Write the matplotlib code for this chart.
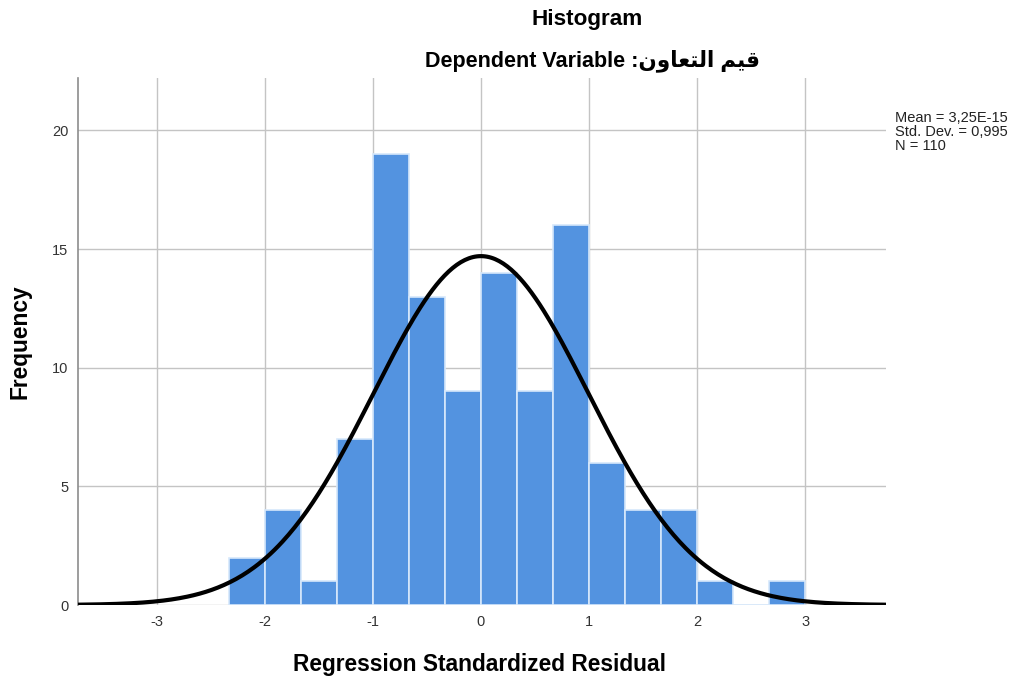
"""SPSS-style histogram of regression standardized residuals."""

import matplotlib
import matplotlib.pyplot as plt
import numpy as np

matplotlib.use("Agg")

# bin edges (width 1/3) and counts
bin_edges = [-7 / 3, -2, -5 / 3, -4 / 3, -1, -2 / 3, -1 / 3, 0, 1 / 3, 2 / 3,
             1, 4 / 3, 5 / 3, 2, 7 / 3, 8 / 3, 3]
counts = [2, 4, 1, 7, 19, 13, 9, 14, 9, 16, 6, 4, 4, 1, 0, 1]
x_ticks = [-3, -2, -1, 0, 1, 2, 3]
y_ticks = [0, 5, 10, 15, 20]

mean = 3.25e-15
std = 0.995
n = 110

# Arabic variable name, pre-shaped presentation forms in visual order
arabic_name = "\uFEE5\uFEED\uFE8E\uFECC\uFE98\uFEDF\uFE8D \uFEE2\uFEF4\uFED7"

plt.rcParams["font.family"] = ["Liberation Sans", "DejaVu Sans"]
plt.rcParams["axes.unicode_minus"] = False

fig = plt.figure(figsize=(10.16, 6.81), dpi=100)
ax = fig.add_axes([0.0768, 0.1116, 0.7953, 0.7736])

widths = np.diff(bin_edges)
ax.bar(bin_edges[:-1], counts, width=widths, align="edge",
       color="#5393e0", edgecolor="#d6e8fb", linewidth=1.2, zorder=2)

# fitted normal curve
xs = np.linspace(-3.73, 3.75, 400)
bw = bin_edges[1] - bin_edges[0]
ys = n * bw / (std * np.sqrt(2 * np.pi)) * np.exp(-0.5 * ((xs - mean) / std) ** 2)
ax.plot(xs, ys, color="black", linewidth=3, zorder=3, solid_capstyle="butt")

ax.set_xlim(-3.73, 3.75)
ax.set_ylim(0, 22.2)
ax.set_xticks(x_ticks)
ax.set_yticks(y_ticks)
ax.tick_params(length=0, labelsize=10.5, colors="#333333")
ax.tick_params(axis="x", pad=7)
ax.tick_params(axis="y", pad=7)
ax.grid(True, color="#c4c4c4", linewidth=1, zorder=0)
ax.set_axisbelow(True)
for side in ["top", "right", "bottom"]:
    ax.spines[side].set_visible(False)
ax.spines["left"].set_color("#8c8c8c")
ax.spines["left"].set_linewidth(1.2)

ax.set_xlabel("Regression Standardized Residual", fontsize=16.4, fontweight="bold")
ax.xaxis.set_label_coords(0.497, -0.092)
ax.set_ylabel("Frequency", fontsize=16.4, fontweight="bold")
ax.yaxis.set_label_coords(-0.058, 0.5)

fig.text(0.578, 0.971, "Histogram", ha="center", va="center",
         fontsize=16.2, fontweight="bold")
fig.text(0.583, 0.911, "Dependent Variable :" + arabic_name, ha="center",
         va="center", fontsize=15.5, fontweight="bold")

stats = f"Mean = 3,25E-15\nStd. Dev. = 0,995\nN = {n}"
fig.text(0.881, 0.837, stats, ha="left", va="top", fontsize=10.5,
         linespacing=1.02, color="#222222")

fig.savefig("out.png", dpi=100)
plt.close(fig)
